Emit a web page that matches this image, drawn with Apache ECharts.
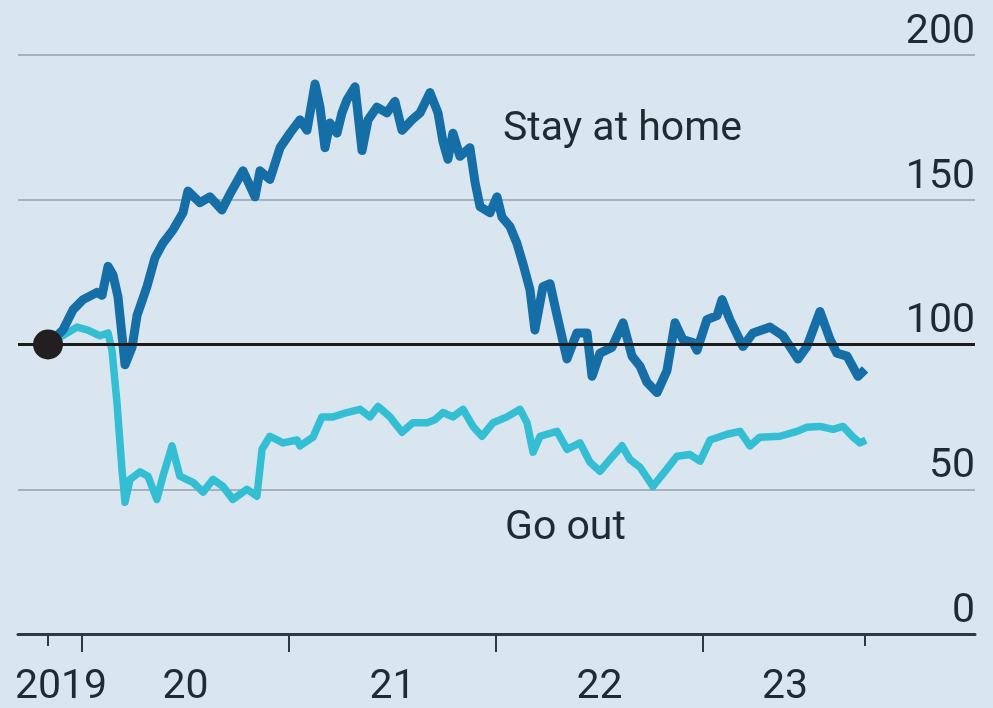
<!DOCTYPE html>
<html>
<head>
<meta charset="utf-8">
<script src="https://cdn.jsdelivr.net/npm/echarts@6/dist/echarts.min.js"></script>
<style>
  html, body { margin: 0; padding: 0; background: #d9e6ef; }
  #main { width: 993px; height: 708px; }
</style>
</head>
<body>
<div id="main"></div>
<script>
// index, start = 100; x is in decimal years
const stayYears = [2019.836, 2019.908, 2019.957, 2020.005, 2020.072, 2020.097, 2020.126, 2020.150, 2020.174, 2020.208,
  2020.242, 2020.266, 2020.314, 2020.353, 2020.391, 2020.440, 2020.488, 2020.512, 2020.570, 2020.618,
  2020.676, 2020.715, 2020.778, 2020.836, 2020.860, 2020.908, 2020.957, 2021.005, 2021.053, 2021.087,
  2021.126, 2021.150, 2021.174, 2021.198, 2021.232, 2021.256, 2021.280, 2021.319, 2021.353, 2021.382,
  2021.425, 2021.473, 2021.512, 2021.546, 2021.594, 2021.633, 2021.681, 2021.720, 2021.744, 2021.768,
  2021.792, 2021.826, 2021.874, 2021.899, 2021.923, 2021.971, 2022.005, 2022.029, 2022.068, 2022.101,
  2022.130, 2022.164, 2022.188, 2022.227, 2022.261, 2022.295, 2022.343, 2022.391, 2022.440, 2022.464,
  2022.502, 2022.560, 2022.614, 2022.657, 2022.696, 2022.729, 2022.778, 2022.826, 2022.865, 2022.903,
  2022.952, 2022.971, 2023.019, 2023.068, 2023.092, 2023.130, 2023.193, 2023.242, 2023.324, 2023.386,
  2023.459, 2023.502, 2023.565, 2023.614, 2023.647, 2023.696, 2023.749, 2023.783];
const stayValues = [100, 105, 112, 115.5, 118, 117, 127, 124, 116.5, 93,
  99, 110, 120, 130, 135, 139.6, 145.5, 153, 149, 151,
  146.5, 152, 160, 151, 160, 157, 168, 173, 177.6, 174,
  190, 182, 168, 176.5, 173, 180, 184.5, 189, 167, 177.6,
  182, 180, 184, 174, 177.6, 180, 187, 180, 170, 164,
  173, 165, 168, 156, 147.6, 145.5, 151, 144, 140.7, 135,
  128, 119, 105, 120, 121, 110, 95, 104, 104, 89,
  97, 99, 107.5, 96, 92.5, 87, 83.4, 91, 107.5, 101.7,
  100.7, 98, 108.6, 110, 115.5, 108.6, 99.3, 104, 106, 103,
  95, 99.3, 111.4, 101.7, 97, 96, 89, 91.4];

const goYears = [2019.836, 2019.976, 2020.029, 2020.087, 2020.126, 2020.145, 2020.169, 2020.193, 2020.208, 2020.232,
  2020.280, 2020.319, 2020.362, 2020.391, 2020.435, 2020.473, 2020.536, 2020.585, 2020.633, 2020.681,
  2020.729, 2020.797, 2020.845, 2020.870, 2020.908, 2020.971, 2021.039, 2021.053, 2021.116, 2021.159,
  2021.213, 2021.280, 2021.343, 2021.391, 2021.430, 2021.488, 2021.546, 2021.599, 2021.667, 2021.705,
  2021.744, 2021.792, 2021.841, 2021.889, 2021.932, 2021.986, 2022.053, 2022.116, 2022.150, 2022.179,
  2022.213, 2022.295, 2022.343, 2022.406, 2022.454, 2022.502, 2022.551, 2022.609, 2022.647, 2022.696,
  2022.758, 2022.826, 2022.874, 2022.937, 2022.986, 2023.034, 2023.116, 2023.179, 2023.227, 2023.275,
  2023.372, 2023.454, 2023.502, 2023.565, 2023.628, 2023.676, 2023.725, 2023.758, 2023.787];
const goValues = [100, 106, 105, 103, 104, 98, 80, 57, 45.5, 53.4,
  56, 54.5, 46.5, 54.5, 65, 54.5, 52.4, 49, 53.4, 51,
  46.5, 50, 47.6, 63.8, 68.3, 66, 67, 65, 68, 75,
  75, 76.5, 77.6, 75, 78.6, 75, 69.7, 73, 73, 74,
  76.5, 75, 77.6, 71.7, 68.3, 73, 75, 77.6, 73, 62.8,
  68.3, 70, 63.8, 66, 59.3, 56.2, 60.3, 65, 60.3, 57.6,
  51, 57, 61.4, 62, 59.7, 67, 69, 70, 65, 68,
  68.3, 70, 71.4, 71.7, 70.7, 71.7, 68, 66, 67];

const yearTicks = [2020, 2021, 2022, 2023];
const labelPos = [2019.899, 2020.5, 2021.5, 2022.5, 2023.396];
const labelText = ['2019', '20', '21', '22', '23'];

const font = 'Roboto';
const ink = '#1f2a33';
const xMin = 2019.691, xMax = 2024.314;

function pairs(xs, ys) { return xs.map((x, i) => [x, ys[i]]); }

let myChart = echarts.init(document.getElementById('main'));
myChart.setOption({
    backgroundColor: '#d9e6ef',
    animation: false,
    grid: { left: 18, right: 18, top: 55, bottom: 73 },
    xAxis: [
        {
            type: 'value', min: xMin, max: xMax,
            splitLine: { show: false },
            axisLine: { show: true, lineStyle: { color: '#2c3a44', width: 3 } },
            axisTick: { show: true, customValues: yearTicks, length: 18, lineStyle: { color: '#2c3a44', width: 2 } },
            axisLabel: {
                customValues: labelPos, margin: 33,
                fontFamily: font, fontSize: 41, lineHeight: 41, color: ink,
                formatter: function (v) {
                    let best = 0;
                    for (let i = 1; i < labelPos.length; i++)
                        if (Math.abs(labelPos[i] - v) < Math.abs(labelPos[best] - v)) best = i;
                    return labelText[best];
                }
            }
        },
        {
            type: 'value', min: xMin, max: xMax, position: 'bottom',
            splitLine: { show: false },
            axisLine: { show: false },
            axisLabel: { show: false },
            axisTick: { show: true, customValues: [stayYears[0], stayYears[stayYears.length - 1]], length: 12, lineStyle: { color: '#2c3a44', width: 2 } }
        }
    ],
    yAxis: {
        type: 'value', position: 'right', min: 0, max: 200, interval: 50,
        axisLine: { show: false },
        axisTick: { show: false },
        splitLine: { show: true, lineStyle: { color: '#a3b3be', width: 2 } },
        axisLabel: {
            inside: true, margin: 0, verticalAlign: 'bottom', padding: [0, 0, 2, 0],
            fontFamily: font, fontSize: 41, lineHeight: 41, color: ink
        }
    },
    graphic: [
        { type: 'text', left: 503, top: 109, style: { text: 'Stay at home', font: '41px Roboto', fill: ink } },
        { type: 'text', left: 505, top: 508, style: { text: 'Go out', font: '41px Roboto', fill: ink } }
    ],
    series: [
        {
            name: 'Go out', type: 'line', symbol: 'none',
            lineStyle: { color: '#34bed3', width: 7.5, join: 'round' },
            data: pairs(goYears, goValues),
            z: 3,
            markLine: {
                silent: true, symbol: 'none', label: { show: false },
                lineStyle: { color: '#1c1c1c', width: 3, type: 'solid' },
                data: [{ yAxis: 100 }]
            }
        },
        {
            name: 'Stay at home', type: 'line', symbol: 'none',
            lineStyle: { color: '#166ea6', width: 9, join: 'round' },
            data: pairs(stayYears, stayValues),
            z: 4
        },
        {
            type: 'scatter', symbolSize: 30,
            itemStyle: { color: '#231f20', opacity: 1 },
            data: [[stayYears[0], stayValues[0]]],
            z: 5
        }
    ]
});
</script>
</body>
</html>
